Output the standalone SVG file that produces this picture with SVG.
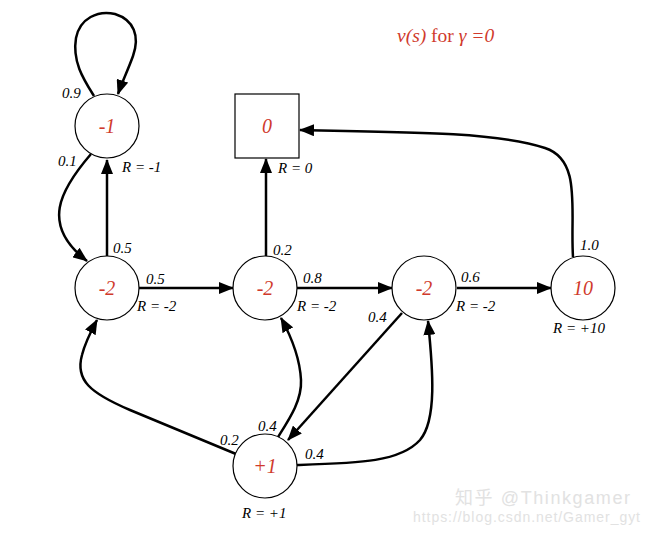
<svg xmlns="http://www.w3.org/2000/svg" width="647" height="534" viewBox="0 0 647 534">
<style>
.node{fill:#fff;stroke:#000;stroke-width:1.2}
.val{font-family:"Liberation Serif",serif;font-style:italic;font-size:20px;fill:#d03a2c;text-anchor:middle}
.lbl{font-family:"Liberation Serif",serif;font-style:italic;font-size:15px;fill:#000}
.edge{fill:none;stroke:#000;stroke-width:2.5;marker-end:url(#arr)}
.wm{font-family:"Liberation Sans","Noto Sans CJK SC",sans-serif;fill:#e2e2e2}
</style>
<defs>
<marker id="arr" markerUnits="userSpaceOnUse" markerWidth="15" markerHeight="12" refX="14" refY="6" orient="auto">
<path d="M0,0 L15,6 L0,12 z" fill="#000"/>
</marker>
</defs>
<rect width="647" height="534" fill="#fff"/>
<text x="397" y="42" font-family="'Liberation Serif',serif" font-size="19.5" fill="#d03a2c"><tspan font-style="italic">v(s)</tspan> for <tspan font-style="italic">γ =0</tspan></text>
<g id="connectors">
<path class="edge" d="M94 96 C84 80 72 62 76 38 C80 18 98 10 115 14 C134 20 140 36 133 56 C128 70 122 82 118 94"/>
<path class="edge" d="M91 154 C60 190 40 225 87 261"/>
<path class="edge" d="M107 256 L107 160"/>
<path class="edge" d="M139 288 L233 288"/>
<path class="edge" d="M266 256 L266 159"/>
<path class="edge" d="M297 288 L392 288"/>
<path class="edge" d="M457 288 L551 288"/>
<path class="edge" d="M573 257 C570 210 582 160 545 148 C500 133 420 132 300 130"/>
<path class="edge" d="M402 313 L288 440"/>
<path class="edge" d="M236 454 L130 410 C90 393 75 380 82 355 C85 343 90 333 97 320"/>
<path class="edge" d="M278 437 C290 418 302 400 301 380 C300 360 292 338 281 318"/>
<path class="edge" d="M297 465 C360 463 400 462 420 440 C437 420 433 370 428 321"/>
</g>
<g id="labels">
<text class="lbl" x="62" y="98">0.9</text>
<text class="lbl" x="58" y="166">0.1</text>
<text class="lbl" x="113" y="253">0.5</text>
<text class="lbl" x="146" y="284">0.5</text>
<text class="lbl" x="273" y="255">0.2</text>
<text class="lbl" x="303" y="283">0.8</text>
<text class="lbl" x="461" y="282">0.6</text>
<text class="lbl" x="580" y="250">1.0</text>
<text class="lbl" x="368" y="322">0.4</text>
<text class="lbl" x="220" y="445">0.2</text>
<text class="lbl" x="258" y="431">0.4</text>
<text class="lbl" x="305" y="459">0.4</text>
</g>
<g id="n_m1"><circle class="node" cx="107" cy="126" r="32"/><text class="val" x="107" y="133">-1</text><text class="lbl" x="122" y="172">R = -1</text></g>
<g id="n_term"><rect class="node" x="235" y="94" width="64" height="64"/><text class="val" x="267" y="133">0</text><text class="lbl" x="278" y="173">R = 0</text></g>
<g id="n_a"><circle class="node" cx="107" cy="288" r="32"/><text class="val" x="107" y="295">-2</text><text class="lbl" x="137" y="311">R = -2</text></g>
<g id="n_b"><circle class="node" cx="265" cy="288" r="32"/><text class="val" x="265" y="295">-2</text><text class="lbl" x="297" y="311">R = -2</text></g>
<g id="n_c"><circle class="node" cx="424" cy="288" r="32"/><text class="val" x="424" y="295">-2</text><text class="lbl" x="456" y="311">R = -2</text></g>
<g id="n_10"><circle class="node" cx="583" cy="288" r="32"/><text class="val" x="583" y="295">10</text><text class="lbl" x="553" y="333">R = +10</text></g>
<g id="n_p1"><circle class="node" cx="265" cy="466" r="32"/><text class="val" x="265" y="473">+1</text><text class="lbl" x="242" y="518">R = +1</text></g>
<g id="watermark">
<text class="wm" x="455" y="504" font-size="18" textLength="175" lengthAdjust="spacing">知乎 @Thinkgamer</text>
<text class="wm" x="413" y="522" font-size="14" textLength="227" lengthAdjust="spacing">https://blog.csdn.net/Gamer_gyt</text>
</g>
</svg>
